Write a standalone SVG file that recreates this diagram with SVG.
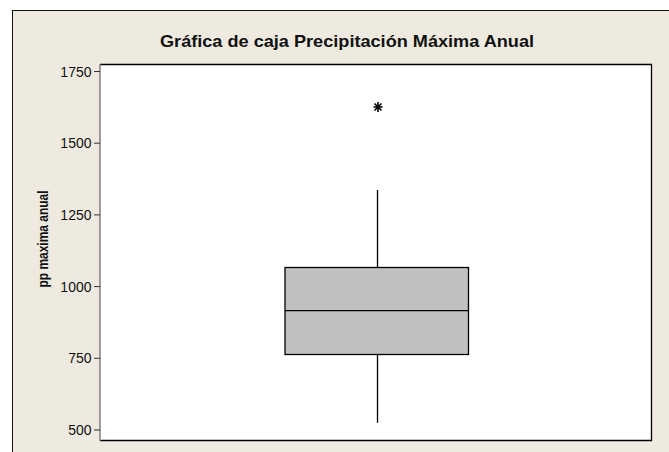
<svg xmlns="http://www.w3.org/2000/svg" width="669" height="452" viewBox="0 0 669 452">
  <style>
    .tick { stroke: #333; stroke-width: 1; }
    .tl { font-family: "Liberation Sans", Arial, sans-serif; font-size: 14px; fill: #111; text-anchor: end; }
    .ttl { font-family: "Liberation Sans", Arial, sans-serif; font-size: 16.5px; font-weight: bold; fill: #111; }
    .yl { font-family: "Liberation Sans", Arial, sans-serif; font-size: 14.5px; font-weight: bold; fill: #111; }
    .ln { stroke: #000; stroke-width: 1.3; fill: none; }
  </style>
  <rect x="0" y="0" width="669" height="452" fill="#ffffff"/>
  <g id="frame">
    <rect x="12.5" y="10.5" width="670" height="450" fill="#EEEAE0" stroke="#111" stroke-width="1"/>
  </g>
  <g id="plot-area">
    <rect x="100" y="64" width="551.5" height="377" fill="#ffffff"/>
    <polyline points="100,64.5 651.5,64.5 651.5,440.5 100,440.5" fill="none" stroke="#000" stroke-width="1.3"/>
    <line x1="100" y1="64" x2="100" y2="441" stroke="#777" stroke-width="1.4"/>
  </g>
  <g id="title">
    <text class="ttl" x="160" y="47" textLength="374" lengthAdjust="spacingAndGlyphs">Gráfica de caja Precipitación Máxima Anual</text>
  </g>
  <g id="y-axis-label">
    <text class="yl" transform="translate(48,239) rotate(-90)" text-anchor="middle" textLength="97" lengthAdjust="spacingAndGlyphs">pp maxima anual</text>
  </g>
  <g id="y-axis">
    <line class="tick" x1="94" y1="71.5" x2="100" y2="71.5"/>
    <line class="tick" x1="94" y1="143.2" x2="100" y2="143.2"/>
    <line class="tick" x1="94" y1="214.9" x2="100" y2="214.9"/>
    <line class="tick" x1="94" y1="286.6" x2="100" y2="286.6"/>
    <line class="tick" x1="94" y1="358.3" x2="100" y2="358.3"/>
    <line class="tick" x1="94" y1="430" x2="100" y2="430"/>
    <text class="tl" x="91.5" y="76.5">1750</text>
    <text class="tl" x="91.5" y="148.2">1500</text>
    <text class="tl" x="91.5" y="219.9">1250</text>
    <text class="tl" x="91.5" y="291.6">1000</text>
    <text class="tl" x="91.5" y="363.3">750</text>
    <text class="tl" x="91.5" y="435">500</text>
  </g>
  <g id="connectors">
    <line class="ln" x1="377.5" y1="190" x2="377.5" y2="267.5"/>
    <line class="ln" x1="377.5" y1="354.5" x2="377.5" y2="422.7"/>
  </g>
  <g id="box">
    <rect x="285" y="267.5" width="183.5" height="87" fill="#C0C0C0" stroke="#000" stroke-width="1.3"/>
    <line class="ln" x1="285" y1="310.7" x2="468.5" y2="310.7"/>
  </g>
  <g id="outlier" stroke="#000" stroke-width="1.6">
    <line x1="373.5" y1="107" x2="382.5" y2="107"/>
    <line x1="378" y1="102" x2="378" y2="112"/>
    <line x1="374.5" y1="103.5" x2="381.5" y2="110.5"/>
    <line x1="381.5" y1="103.5" x2="374.5" y2="110.5"/>
  </g>
</svg>
